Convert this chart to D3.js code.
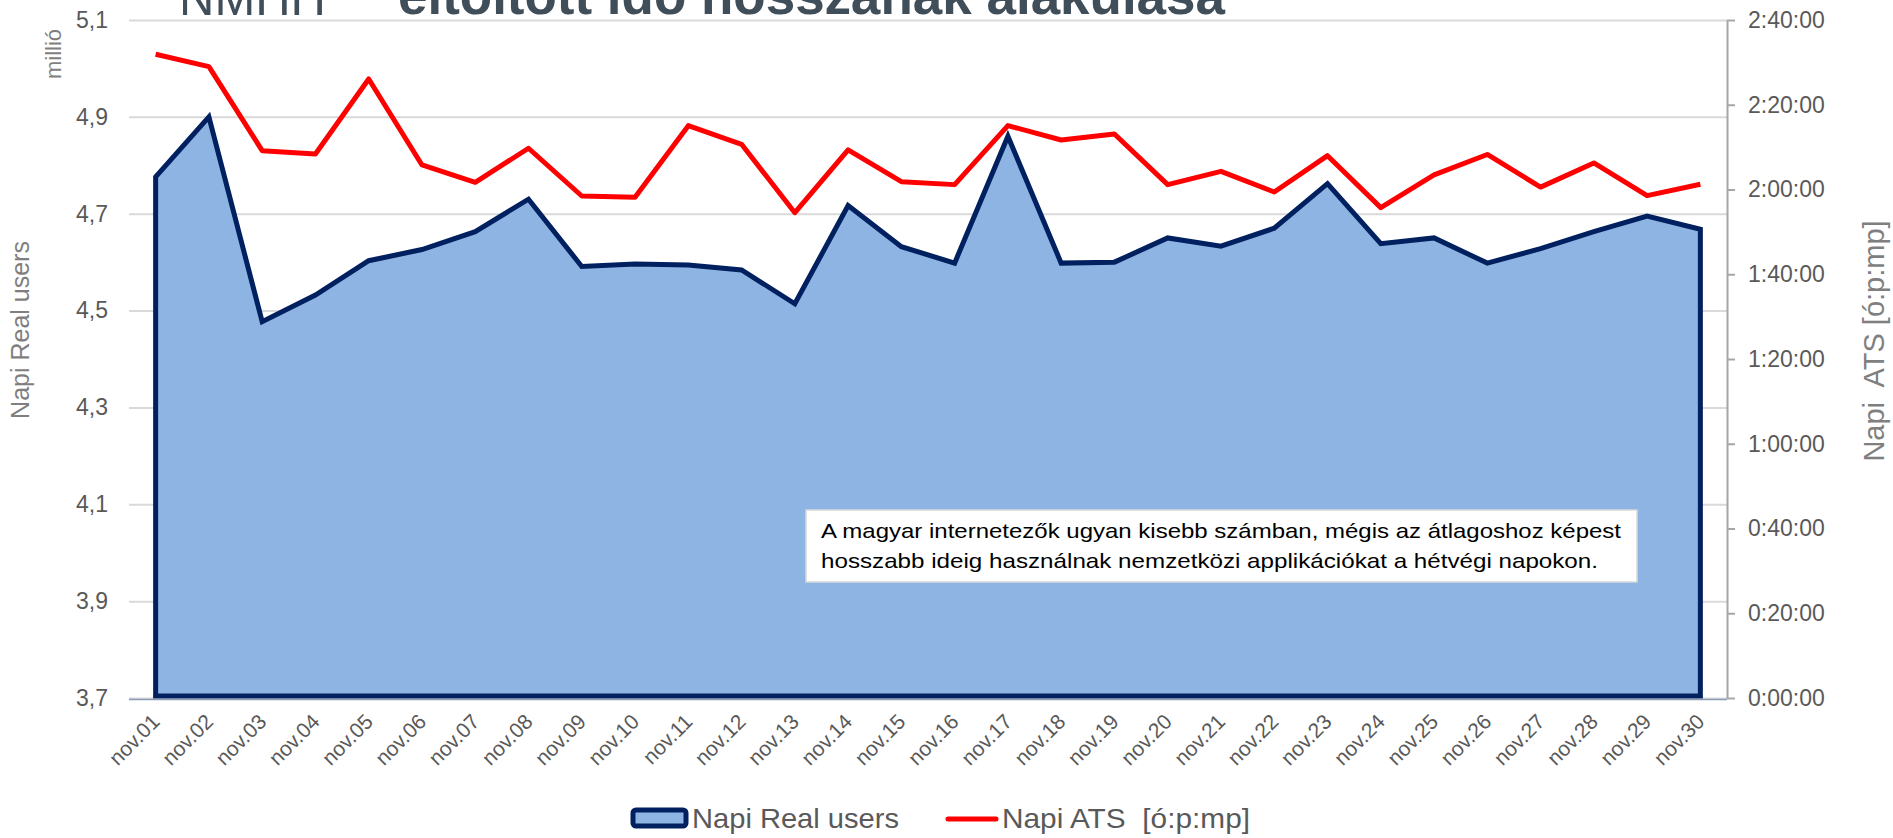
<!DOCTYPE html>
<html><head><meta charset="utf-8">
<script src="https://cdn.jsdelivr.net/npm/d3@7"></script>
<style>
body{margin:0;background:#fff;}
svg{display:block;font-family:"Liberation Sans",Arial,sans-serif;}
text{white-space:pre;}
</style>
</head><body>
<svg id="c" width="1893" height="838"></svg>
<script>
const categories = ["nov.01","nov.02","nov.03","nov.04","nov.05","nov.06","nov.07","nov.08","nov.09","nov.10",
  "nov.11","nov.12","nov.13","nov.14","nov.15","nov.16","nov.17","nov.18","nov.19","nov.20",
  "nov.21","nov.22","nov.23","nov.24","nov.25","nov.26","nov.27","nov.28","nov.29","nov.30"];
const realUsers = [4.776,4.900,4.477,4.532,4.603,4.626,4.663,4.730,4.591,4.596,
  4.594,4.584,4.514,4.717,4.632,4.598,4.860,4.598,4.600,4.650,
  4.633,4.670,4.762,4.638,4.650,4.598,4.628,4.663,4.695,4.668];
const atsValues = ["2:31:55","2:28:59","2:09:10","2:08:23","2:26:05","2:05:47","2:01:42","2:09:44","1:58:28","1:58:10",
  "2:15:04","2:10:40","1:54:32","2:09:20","2:01:51","2:01:09","2:15:05","2:11:41","2:13:06","2:01:09",
  "2:04:17","1:59:25","2:07:59","1:55:43","2:03:26","2:08:16","2:00:34","2:06:16","1:58:34","2:01:14"];
const leftTicks = [3.7,3.9,4.1,4.3,4.5,4.7,4.9,5.1];
const leftTickLabels = ["3,7","3,9","4,1","4,3","4,5","4,7","4,9","5,1"];
const rightTickLabels = ["0:00:00","0:20:00","0:40:00","1:00:00","1:20:00","1:40:00","2:00:00","2:20:00","2:40:00"];
const seriesNames = ["Napi Real users","Napi ATS  [ó:p:mp]"];
const leftTitle = "Napi Real users";
const rightTitle = "Napi  ATS [ó:p:mp]";
const unitLabel = "millió";
const chartTitle = "eltöltött idő hosszának alakulása";
const logoText = "NMHH";
const noteLines = ["A magyar internetezők ugyan kisebb számban, mégis az átlagoshoz képest",
  "hosszabb ideig használnak nemzetközi applikációkat a hétvégi napokon."];

const toSec = s => { const p = s.split(":").map(Number); return p[0]*3600 + p[1]*60 + p[2]; };
const rightTicks = rightTickLabels.map(toSec);

const svg = d3.select("#c");
const L = 129, R = 1727, T = 20, B = 698;
const x = d3.scalePoint().domain(categories).range([L, R]).padding(0.5);
const yL = d3.scaleLinear().domain([3.7, 5.1]).range([B, T]);
const yR = d3.scaleLinear().domain([0, 9600]).range([B, T]);

// title (cut off at top, as in the source)
svg.append("text").attr("x", 179).attr("y", 15).attr("font-size", 50)
  .attr("fill", "#404e5a").attr("textLength", 147).attr("lengthAdjust", "spacingAndGlyphs").text(logoText);
svg.append("text").attr("x", 398).attr("y", 14).attr("font-size", 53).attr("font-weight", "bold")
  .attr("fill", "#404e5a").attr("textLength", 827).attr("lengthAdjust", "spacingAndGlyphs").text(chartTitle);

// left axis with gridlines
const gl = svg.append("g").attr("transform", `translate(${L},0)`)
  .call(d3.axisLeft(yL).tickValues(leftTicks).tickSize(-(R - L)).tickPadding(21)
    .tickFormat((d, i) => leftTickLabels[i]));
gl.select(".domain").remove();
gl.selectAll("line").attr("stroke", "#d9d9d9").attr("stroke-width", 2);
gl.selectAll("text").attr("font-size", 23).attr("fill", "#595959")
  .attr("font-family", "Liberation Sans, Arial, sans-serif");

// area
const data = categories.map((c, i) => ({c, u: realUsers[i], a: toSec(atsValues[i])}));
svg.append("path").datum(data)
  .attr("d", d3.area().x(d => x(d.c)).y0(yL(3.7) - 2).y1(d => yL(d.u)))
  .attr("fill", "#8eb4e3").attr("stroke", "#002060").attr("stroke-width", 5)
  .attr("stroke-linejoin", "miter");

// bottom axis
const gb = svg.append("g").attr("transform", `translate(0,${B})`)
  .call(d3.axisBottom(x).tickSize(0).tickSizeOuter(0));
gb.select(".domain").attr("stroke", "#8a9bb8").attr("stroke-width", 1.5)
  .attr("d", `M${L},1.5H${R}`);
gb.selectAll("text").attr("font-size", 21).attr("fill", "#595959")
  .attr("font-family", "Liberation Sans, Arial, sans-serif")
  .attr("text-anchor", "end").attr("y", 0).attr("dy", 0)
  .attr("transform", "translate(5,25) rotate(-45)");

// right axis
const gr = svg.append("g").attr("transform", `translate(${R},0)`)
  .call(d3.axisRight(yR).tickValues(rightTicks).tickSize(8).tickSizeOuter(0).tickPadding(13)
    .tickFormat((d, i) => rightTickLabels[i]));
gr.select(".domain").attr("stroke", "#a6a6a6").attr("stroke-width", 2);
gr.selectAll("line").attr("stroke", "#a6a6a6").attr("stroke-width", 2);
gr.selectAll("text").attr("font-size", 23).attr("fill", "#595959")
  .attr("font-family", "Liberation Sans, Arial, sans-serif");

// ATS line
svg.append("path").datum(data)
  .attr("d", d3.line().x(d => x(d.c)).y(d => yR(d.a)))
  .attr("fill", "none").attr("stroke", "#ff0000").attr("stroke-width", 5)
  .attr("stroke-linejoin", "round");

// axis titles
svg.append("text").attr("transform", "translate(20,330) rotate(-90)").attr("text-anchor", "middle")
  .attr("dominant-baseline", "central").attr("font-size", 25).attr("fill", "#7f7f7f").text(leftTitle);
svg.append("text").attr("transform", "translate(53,54) rotate(-90)").attr("text-anchor", "middle")
  .attr("dominant-baseline", "central").attr("font-size", 22).attr("fill", "#7f7f7f").text(unitLabel);
svg.append("text").attr("transform", "translate(1874,341) rotate(-90)").attr("text-anchor", "middle")
  .attr("dominant-baseline", "central").attr("font-size", 29).attr("fill", "#7f7f7f").text(rightTitle);

// annotation
svg.append("rect").attr("x", 806).attr("y", 510).attr("width", 831).attr("height", 72)
  .attr("fill", "#fff").attr("stroke", "#d9d9d9").attr("stroke-width", 1.5);
svg.append("text").attr("x", 821).attr("y", 538).attr("font-size", 21).attr("fill", "#000")
  .attr("textLength", 800).attr("lengthAdjust", "spacingAndGlyphs").text(noteLines[0]);
svg.append("text").attr("x", 821).attr("y", 568).attr("font-size", 21).attr("fill", "#000")
  .attr("textLength", 777).attr("lengthAdjust", "spacingAndGlyphs").text(noteLines[1]);

// legend
svg.append("rect").attr("x", 633).attr("y", 810).attr("width", 53).attr("height", 16).attr("rx", 3)
  .attr("fill", "#8eb4e3").attr("stroke", "#002060").attr("stroke-width", 5);
svg.append("text").attr("x", 692).attr("y", 828).attr("font-size", 28).attr("fill", "#595959")
  .attr("textLength", 207).attr("lengthAdjust", "spacingAndGlyphs").text(seriesNames[0]);
svg.append("line").attr("x1", 948).attr("x2", 996).attr("y1", 819).attr("y2", 819)
  .attr("stroke", "#ff0000").attr("stroke-width", 5).attr("stroke-linecap", "round");
svg.append("text").attr("x", 1002).attr("y", 828).attr("font-size", 28).attr("fill", "#595959")
  .attr("textLength", 248).attr("lengthAdjust", "spacingAndGlyphs").text(seriesNames[1]);
</script>
</body></html>
